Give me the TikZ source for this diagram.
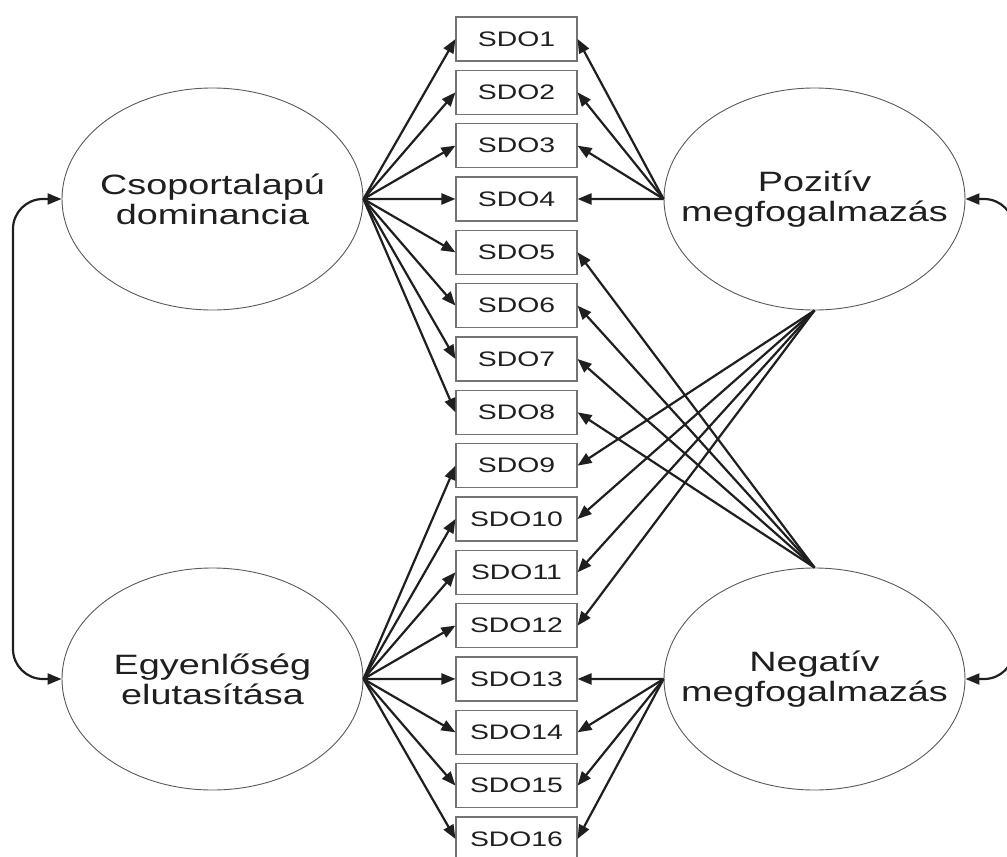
\documentclass[tikz,border=0pt]{standalone}
\usepackage{fontspec}
\setmainfont{Liberation Sans}[FakeStretch=1.35]
\usetikzlibrary{arrows.meta,shapes.geometric}
\begin{document}
\begin{tikzpicture}[x=1pt,y=-1pt,
  >={Triangle[length=14pt,width=11pt]},
  lat/.style={ellipse, draw=black!65, line width=0.9pt, minimum width=301pt, minimum height=222pt, inner sep=0pt},
  lattext/.style={align=center, inner sep=0pt, font=\fontsize{28}{30}\selectfont, text=black!88},
  ind/.style={rectangle, draw=black!55, line width=1.1pt, minimum width=121pt, minimum height=44pt, inner sep=0pt, font=\fontsize{21}{25}\selectfont, text=black!88},
  conn/.style={draw=black!88, line width=2.2pt, ->},
  corr/.style={draw=black!88, line width=2.2pt, <->, rounded corners=30pt}
]
\useasboundingbox (0,0) rectangle (1007,857);
\clip (0,0) rectangle (1007,857);
\foreach \i in {1,...,16} \node[ind] (s\i) at (516.5, {39+(\i-1)*53.33}) {SDO\i};
\node[lat] (CD) at (212.5,199) {};
\node[lat] (EE) at (212.5,679) {};
\node[lat] (PM) at (814.5,199) {};
\node[lat] (NM) at (814.5,679) {};
\node[lattext] (CDt) at (CD) {Csoportalapú\\dominancia};
\node[lattext] (EEt) at (EE) {Egyenlőség\\elutasítása};
\node[lattext] (PMt) at (PM) {Pozitív\\megfogalmazás};
\node[lattext] (NMt) at (NM) {Negatív\\megfogalmazás};
\foreach \i in {1,...,8} \draw[conn] (CD.east) -- (s\i.west);
\foreach \i in {9,...,16} \draw[conn] (EE.east) -- (s\i.west);
\foreach \i in {1,...,4} \draw[conn] (PM.west) -- (s\i.east);
\foreach \i in {9,...,12} \draw[conn] (PM.south) -- (s\i.east);
\foreach \i in {5,...,8} \draw[conn] (NM.north) -- (s\i.east);
\foreach \i in {13,...,16} \draw[conn] (NM.west) -- (s\i.east);
\coordinate (lv) at (13,439);
\coordinate (rv) at (1014,439);
\draw[corr] (CD.west) -| (lv) |- (EE.west);
\draw[corr] (PM.east) -| (rv) |- (NM.east);
\end{tikzpicture}
\end{document}
